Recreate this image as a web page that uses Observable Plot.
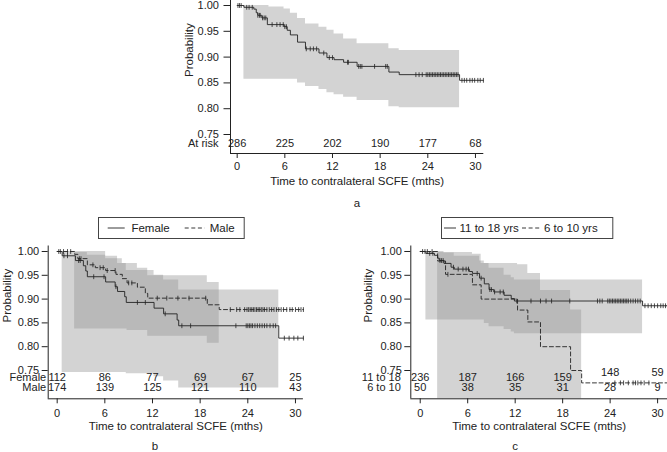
<!DOCTYPE html>
<html><head><meta charset="utf-8">
<script src="https://cdn.jsdelivr.net/npm/d3@7"></script>
<script src="https://cdn.jsdelivr.net/npm/@observablehq/plot@0.6"></script>
<style>
body{margin:0;background:#fff;}
#wrap{position:relative;width:667px;height:452px;overflow:hidden;font-family:"Liberation Sans",Arial,Helvetica,sans-serif;color:#222;}
#wrap svg.p{position:absolute;}
.lab{position:absolute;font-size:11.5px;line-height:12px;transform:translate(-50%,-50%);}
</style></head><body><div id="wrap"></div>
<script>
// ---------- shared ----------
const riskTimes = [0, 6, 12, 18, 24, 30];
const yTicks = [0.75, 0.80, 0.85, 0.90, 0.95, 1.00];
const xTitle = "Time to contralateral SCFE (mths)";
const yTitle = "Probability";

// ---------- panel a (all patients) ----------
const aTime = [0, 0.85, 2.1, 2.4, 2.6, 3.1, 3.8, 5.9, 6.3, 6.7, 7.6, 8.6, 10.3, 11.3, 12.2, 13.4, 15.1, 19.1, 20.4, 28.0, 31.0];
const aSurv = [1.000, 0.9965, 0.993, 0.986, 0.981, 0.976, 0.963, 0.959, 0.952, 0.943, 0.929, 0.916, 0.908, 0.899, 0.895, 0.890, 0.882, 0.871, 0.866, 0.855, 0.855];
const aCensor = [0.1, 0.3, 0.5, 1.2, 1.5, 1.9, 2.6, 2.8, 2.9, 3.2, 3.4, 3.6, 4.4, 5.0, 5.4, 5.8, 6.0, 6.2, 8.7, 9.2, 9.6, 10.0, 10.9, 11.6, 12.0, 13.9, 14.0, 15.3, 15.5, 15.7, 17.3, 18.7, 18.9, 22.5, 22.9, 23.3, 23.8, 24.0, 24.2, 24.4, 24.6, 24.8, 25.0, 25.2, 25.4, 25.6, 25.8, 26.0, 26.2, 26.4, 26.6, 26.8, 27.0, 27.2, 27.4, 27.6, 27.8, 28.3, 28.6, 28.9, 29.3, 29.6, 29.9, 30.3, 30.6, 31.0];
const aBandTime = [0.85, 4.0, 5.9, 6.7, 7.6, 8.6, 10.3, 11.3, 12.2, 13.4, 15.1, 19.1, 20.4, 28.0];
const aBandLo = [0.857, 0.857, 0.857, 0.857, 0.850, 0.843, 0.837, 0.831, 0.827, 0.822, 0.816, 0.804, 0.802, 0.802];
const aBandHi = [1.000, 0.997, 0.993, 0.985, 0.975, 0.964, 0.958, 0.952, 0.945, 0.935, 0.926, 0.916, 0.913, 0.913];
const aRisk = [286, 225, 202, 190, 177, 68];

// ---------- panel b (sex) ----------
const sexLabels = ["Female", "Male"];
const fTime = [0, 0.63, 2.3, 3.3, 3.6, 3.8, 6.1, 7.3, 7.6, 8.5, 8.7, 12.2, 13.4, 15.1, 15.3, 27.9, 31.0];
const fSurv = [1.000, 0.991, 0.981, 0.970, 0.959, 0.947, 0.936, 0.926, 0.916, 0.905, 0.893, 0.881, 0.869, 0.856, 0.844, 0.818, 0.818];
const fCensor = [0.85, 1.3, 2.7, 2.9, 4.6, 5.9, 7.4, 10.1, 11.1, 13.6, 15.7, 16.8, 22.5, 23.8, 24.0, 24.2, 24.4, 24.6, 24.9, 25.2, 25.5, 25.8, 26.1, 26.4, 26.8, 27.2, 27.5, 28.6, 29.2, 29.8, 30.3, 31.0];
const fBandTime = [0.63, 6.1, 7.6, 8.7, 12.2, 13.4, 15.3, 27.9];
const fBandLo = [0.746, 0.746, 0.746, 0.743, 0.737, 0.728, 0.713, 0.713];
const fBandHi = [1.000, 0.990, 0.975, 0.960, 0.950, 0.940, 0.919, 0.919];
const fRisk = [112, 86, 77, 69, 67, 25];
const mTime = [0, 2.2, 2.6, 3.8, 4.8, 6.1, 7.4, 8.2, 8.8, 10.1, 11.1, 11.4, 18.9, 20.4, 31.0];
const mSurv = [1.000, 0.994, 0.985, 0.972, 0.966, 0.960, 0.952, 0.943, 0.934, 0.925, 0.912, 0.902, 0.888, 0.878, 0.878];
const mCensor = [0.2, 0.4, 0.8, 1.3, 1.7, 2.8, 3.0, 4.5, 5.4, 5.8, 6.3, 7.3, 9.0, 9.4, 12.6, 13.8, 15.2, 16.6, 18.7, 21.8, 22.6, 23.0, 23.6, 23.9, 24.1, 24.3, 24.5, 24.7, 24.9, 25.1, 25.3, 25.5, 25.7, 25.9, 26.1, 26.4, 26.7, 27.0, 27.3, 27.6, 27.9, 28.2, 28.5, 28.9, 29.3, 29.6, 30.0, 30.4, 30.7, 31.0];
const mBandTime = [2.2, 3.8, 6.1, 8.2, 8.8, 10.1, 11.4, 18.9, 20.4];
const mBandLo = [0.837, 0.837, 0.837, 0.837, 0.834, 0.834, 0.822, 0.807, 0.807];
const mBandHi = [0.998, 0.992, 0.985, 0.975, 0.975, 0.965, 0.949, 0.935, 0.935];
const mRisk = [174, 139, 125, 121, 110, 43];

// ---------- panel c (age) ----------
const ageLabels = ["11 to 18 yrs", "6 to 10 yrs"];
const ageRowLabels = ["11 to 18", "6 to 10"];
const oTime = [0, 0.72, 1.8, 2.2, 2.4, 3.0, 3.9, 4.3, 6.2, 6.6, 7.5, 8.1, 8.7, 9.3, 10.6, 11.5, 11.9, 28.1, 31.2];
const oSurv = [1.000, 0.996, 0.992, 0.986, 0.981, 0.975, 0.967, 0.963, 0.958, 0.954, 0.944, 0.932, 0.920, 0.915, 0.908, 0.901, 0.896, 0.886, 0.886];
const oCensor = [0.3, 0.6, 1.2, 1.6, 2.5, 2.7, 2.9, 4.2, 4.8, 5.4, 5.8, 6.1, 7.2, 7.7, 8.8, 9.0, 9.4, 10.1, 10.5, 12.2, 14.0, 15.2, 15.9, 16.6, 18.9, 22.4, 22.7, 23.0, 23.7, 23.9, 24.1, 24.3, 24.5, 24.7, 24.9, 25.1, 25.3, 25.5, 25.7, 25.9, 26.1, 26.3, 26.6, 26.9, 27.2, 27.5, 27.8, 28.4, 28.8, 29.2, 29.6, 30.0, 30.4, 30.7, 31.0];
const oBandTime = [0.72, 3.0, 4.3, 7.5, 8.1, 8.7, 10.6, 11.5, 11.9, 28.1];
const oBandLo = [0.856, 0.856, 0.856, 0.856, 0.849, 0.842, 0.836, 0.831, 0.827, 0.827];
const oBandHi = [1.000, 0.997, 0.990, 0.980, 0.975, 0.965, 0.950, 0.945, 0.940, 0.940];
const oRisk = [236, 187, 166, 159, 148, 59];
const yTime = [0, 2.2, 3.2, 6.6, 7.7, 12.3, 13.6, 15.2, 19.0, 20.4, 31.2];
const ySurv = [1.000, 0.980, 0.952, 0.930, 0.900, 0.877, 0.852, 0.800, 0.750, 0.724, 0.724];
const yCensor = [0.9, 1.5, 3.5, 24.6, 25.3, 25.7, 26.3, 26.9, 27.2, 27.5, 27.9, 28.3, 28.9];
const yBandTime = [2.2, 6.6, 7.7, 12.3, 13.6, 15.2, 19.0, 20.4];
const yBandLo = [0.60, 0.60, 0.60, 0.60, 0.60, 0.60, 0.60, 0.60];
const yBandHi = [0.998, 0.994, 0.975, 0.972, 0.954, 0.918, 0.877, 0.877];
const yRisk = [50, 38, 35, 31, 28, 9];

// ---------- helpers ----------
const FONT = '"Liberation Sans", Arial, Helvetica, sans-serif';
const INK = "#222";
const BAND = "#959595", BAND_OP = 0.41;
const DASH = "4,2.6";
const km = (T, S) => T.map((t, i) => ({t, s: S[i]}));
const band = (T, L, H) => T.map((t, i) => ({t, lo: L[i], hi: H[i]}));
const cens = (C, T, S) => C.map(t => ({t, s: S[Math.max(0, d3.bisectRight(T, t) - 1)]}));
const tickSymbol = {draw(ctx, size) { const h = Math.sqrt(size / Math.PI); ctx.moveTo(0, -h); ctx.lineTo(0, h); }};

function curveMarks(T, S, C, dashed) {
  return [
    Plot.line(km(T, S), {x: "t", y: "s", curve: "step-after", stroke: INK, strokeWidth: 0.9, strokeDasharray: dashed ? DASH : null}),
    Plot.dot(cens(C, T, S), {x: "t", y: "s", symbol: tickSymbol, r: 2.4, stroke: INK, strokeWidth: 0.8, fill: "none"})
  ];
}
function bandMark(T, L, H) {
  return Plot.areaY(band(T, L, H), {x: "t", y1: "lo", y2: "hi", curve: "step-after", fill: BAND, fillOpacity: BAND_OP, clip: true});
}
function frameMarks(xdom, ydom, o) {
  return [
    Plot.axisX({ticks: riskTimes, tickSize: 5, tickPadding: o.xpad, tickFormat: d => d, label: null}),
    Plot.axisY({ticks: yTicks, tickSize: o.ytick, tickPadding: o.ypad, tickFormat: ".2f", label: null}),
    Plot.ruleX([xdom[0]], {stroke: INK, strokeWidth: 1}),
    Plot.ruleY([ydom[0]], {stroke: INK, strokeWidth: 1}),
    Plot.text([xTitle], {text: d => d, frameAnchor: "bottom", dy: 31, lineAnchor: "bottom", fontSize: 11.5, fill: INK}),
    Plot.text([yTitle], {text: d => d, frameAnchor: "left", dx: -o.ylab, rotate: -90, lineAnchor: "top", fontSize: 11.5, fill: INK})
  ];
}
function riskRow(counts, label, dy, labelDx, filter) {
  return [
    Plot.text(riskTimes, {x: d => d, text: (d, i) => counts[i], frameAnchor: "bottom", dy, fill: INK, filter}),
    label == null ? null : Plot.text([label], {text: d => d, frameAnchor: "bottom-left", dx: labelDx, dy, textAnchor: "end", fill: INK})
  ];
}
const styleOf = {fontFamily: FONT, fontSize: "11px", color: INK, background: "transparent", overflow: "visible"};
const wrap = document.getElementById("wrap");
function place(svg, left, top) { svg.classList.add("p"); svg.style.left = left + "px"; svg.style.top = top + "px"; wrap.appendChild(svg); }

// ---------- panel a ----------
{
  const xdom = [-0.84, 31.05], ydom = [0.7132, 1.0097];
  const svg = Plot.plot({
    width: 310, height: 192, marginLeft: 50, marginRight: 6.7, marginTop: 0, marginBottom: 39,
    style: styleOf,
    x: {domain: xdom}, y: {domain: ydom},
    marks: [
      bandMark(aBandTime, aBandLo, aBandHi),
      ...curveMarks(aTime, aSurv, aCensor, false),
      ...riskRow(aRisk, "At risk", -7, -12),
      ...frameMarks(xdom, ydom, {xpad: 4, ytick: 6.5, ypad: 5, ylab: 46})
    ]
  });
  place(svg, 180, 0);
}

// ---------- panel b ----------
{
  const xdom = [-1.13, 31.0], ydom = [0.69055, 1.01155];
  const svg = Plot.plot({
    width: 310, height: 212, marginLeft: 47.7, marginRight: 7.1, marginTop: 5.5, marginBottom: 53.7,
    style: styleOf,
    x: {domain: xdom}, y: {domain: ydom},
    marks: [
      bandMark(fBandTime, fBandLo, fBandHi),
      bandMark(mBandTime, mBandLo, mBandHi),
      ...curveMarks(fTime, fSurv, fCensor, false),
      ...curveMarks(mTime, mSurv, mCensor, true),
      ...riskRow(fRisk, sexLabels[0], -18.3, -2),
      ...riskRow(mRisk, sexLabels[1], -7.6, -2),
      ...frameMarks(xdom, ydom, {xpad: 5, ytick: 6, ypad: 3, ylab: 45.7})
    ]
  });
  place(svg, 0, 240);
}

// ---------- panel c ----------
{
  const xdom = [-1.19, 31.25], ydom = [0.69055, 1.01155];
  const svg = Plot.plot({
    width: 330, height: 212, marginLeft: 73.3, marginRight: 0, marginTop: 5.5, marginBottom: 53.7,
    style: styleOf,
    x: {domain: xdom}, y: {domain: ydom},
    marks: [
      bandMark(oBandTime, oBandLo, oBandHi),
      bandMark(yBandTime, yBandLo, yBandHi),
      ...curveMarks(oTime, oSurv, oCensor, false),
      ...curveMarks(yTime, ySurv, yCensor, true),
      ...riskRow(oRisk, ageRowLabels[0], -18.3, -10, (d, i) => i < 4),
      ...riskRow(oRisk, null, -23.3, 0, (d, i) => i >= 4),
      ...riskRow(yRisk, ageRowLabels[1], -7.6, -10),
      ...frameMarks(xdom, ydom, {xpad: 5, ytick: 6, ypad: 3, ylab: 46.6})
    ]
  });
  place(svg, 337, 240);
}

// ---------- legends ----------
function legend(left, width, items) {
  const svg = d3.create("svg").attr("width", width).attr("height", 22)
    .style("position", "absolute").style("left", left + "px").style("top", "216.5px").style("overflow", "visible");
  svg.append("rect").attr("x", 0.5).attr("y", 0.5).attr("width", width - 1).attr("height", 21)
    .attr("fill", "white").attr("stroke", "#444").attr("stroke-width", 1);
  for (const it of items) {
    svg.append("line").attr("x1", it.x1).attr("x2", it.x2).attr("y1", 11).attr("y2", 11)
      .attr("stroke", INK).attr("stroke-width", 0.9).attr("stroke-dasharray", it.dash ? DASH : null);
    svg.append("text").attr("x", it.tx).attr("y", 15).attr("font-family", FONT).attr("font-size", 11.5)
      .attr("fill", INK).text(it.label);
  }
  wrap.appendChild(svg.node());
}
legend(98.3, 146.7, [
  {x1: 9.7, x2: 26.7, tx: 33.4, label: sexLabels[0]},
  {x1: 86.7, x2: 106.7, tx: 111.7, label: sexLabels[1], dash: true}
]);
legend(441, 172.3, [
  {x1: 3, x2: 15, tx: 18.5, label: ageLabels[0]},
  {x1: 81, x2: 99, tx: 103, label: ageLabels[1], dash: true}
]);

// ---------- panel letters ----------
for (const [t, x, y] of [["a", 357, 203], ["b", 155, 445.5], ["c", 515, 445.5]]) {
  const d = document.createElement("div");
  d.className = "lab"; d.textContent = t; d.style.left = x + "px"; d.style.top = y + "px";
  wrap.appendChild(d);
}
</script></body></html>
